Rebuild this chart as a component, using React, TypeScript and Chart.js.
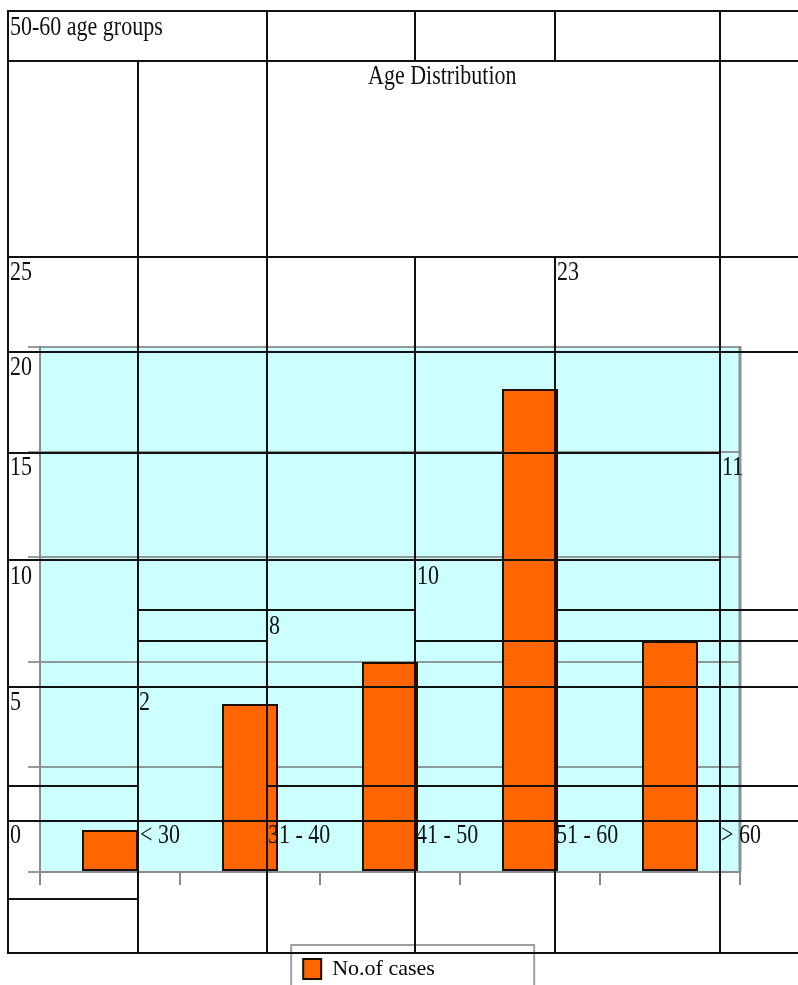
import React, { useEffect, useRef } from 'react';
import { Chart, registerables } from 'chart.js';

Chart.register(...registerables);

// ---- data ----
const categories = ['< 30', '31 - 40', '41 - 50', '51 - 60', '> 60'];
const cases = [2, 8, 10, 23, 11];
const yTickLabels = ['25', '20', '15', '10', '5', '0'];
const yMin = 0;
const yMax = 25;
const yStep = 5;
const seriesName = 'No.of cases';
const chartTitle = 'Age Distribution';
const headerNote = '50-60 age groups';

// ---- overlay table layout (page coordinates) ----
const hLines: [number, number, number][] = [
  [11, 8, 798], [61, 8, 798], [257, 8, 798], [352, 8, 798],
  [453, 8, 720], [560, 8, 720],
  [610, 138, 415], [610, 555, 798],
  [641, 138, 267], [641, 415, 798],
  [687, 8, 798],
  [786, 8, 138], [786, 267, 798],
  [821, 8, 798], [899, 8, 138], [953, 8, 798],
];
const vLines: [number, number, number][] = [
  [8, 11, 953], [138, 61, 953], [267, 11, 953],
  [415, 11, 61], [415, 257, 953],
  [555, 11, 61], [555, 257, 953],
  [720, 11, 953],
];
const textCells: { t: string; x: number; y: number }[] = [
  { t: headerNote, x: 10, y: 17 },
  { t: chartTitle, x: 368, y: 66 },
  { t: yTickLabels[0], x: 10, y: 262 },
  { t: String(cases[3]), x: 557, y: 262 },
  { t: yTickLabels[1], x: 10, y: 357 },
  { t: yTickLabels[2], x: 10, y: 457 },
  { t: String(cases[4]), x: 722, y: 457 },
  { t: yTickLabels[3], x: 10, y: 566 },
  { t: String(cases[2]), x: 417, y: 566 },
  { t: String(cases[1]), x: 269, y: 616 },
  { t: yTickLabels[4], x: 10, y: 692 },
  { t: String(cases[0]), x: 139, y: 692 },
  { t: yTickLabels[5], x: 10, y: 825 },
  { t: categories[0], x: 140, y: 825 },
  { t: categories[1], x: 268, y: 825 },
  { t: categories[2], x: 416, y: 825 },
  { t: categories[3], x: 556, y: 825 },
  { t: categories[4], x: 721, y: 825 },
];

const FONT = "'Liberation Serif', 'Times New Roman', serif";

export default function App() {
  const ref = useRef<HTMLCanvasElement | null>(null);

  useEffect(() => {
    const canvas = ref.current;
    if (!canvas) return;

    const plotBg = {
      id: 'plotBg',
      beforeDraw(chart: any) {
        const { ctx, chartArea: a } = chart;
        ctx.save();
        ctx.fillStyle = '#CCFFFF';
        ctx.fillRect(a.left, a.top, a.right - a.left, a.bottom - a.top);
        ctx.strokeStyle = 'rgba(110,110,110,0.75)';
        ctx.lineWidth = 3;
        ctx.beginPath();
        ctx.moveTo(a.right, a.top - 1);
        ctx.lineTo(a.right, a.bottom);
        ctx.stroke();
        ctx.restore();
      },
    };

    const legendFrame = {
      id: 'legendFrame',
      afterDraw(chart: any) {
        const lg = chart.legend;
        if (!lg || !lg.legendHitBoxes || !lg.legendHitBoxes.length) return;
        const hb = lg.legendHitBoxes[0];
        const { ctx } = chart;
        ctx.save();
        ctx.strokeStyle = '#a0a0a0';
        ctx.lineWidth = 2;
        ctx.strokeRect(hb.left - 12, hb.top - 13, 243, 70);
        ctx.restore();
      },
    };

    const chart = new Chart(canvas, {
      type: 'bar',
      data: {
        labels: categories,
        datasets: [
          {
            label: seriesName,
            data: cases,
            backgroundColor: '#FF6600',
            borderColor: '#1e0e00',
            borderWidth: 2,
            borderSkipped: false,
            barPercentage: 0.4,
            categoryPercentage: 1,
          },
        ],
      },
      options: {
        responsive: false,
        animation: false,
        devicePixelRatio: 1,
        layout: { padding: { left: 8, right: 58, top: 347, bottom: 10 } },
        plugins: {
          title: { display: false },
          tooltip: { enabled: false },
          legend: {
            display: true,
            position: 'bottom',
            labels: {
              boxWidth: 18,
              boxHeight: 20,
              padding: 10,
              color: '#000',
              font: { family: FONT, size: 22 },
            },
          },
        },
        scales: {
          x: {
            type: 'category',
            grid: {
              offset: true,
              drawOnChartArea: false,
              drawTicks: true,
              tickLength: 13,
              color: '#8c8c8c',
              lineWidth: 2,
            },
            border: { display: true, color: '#8c8c8c', width: 2 },
            ticks: { display: false },
            afterFit: (s: any) => {
              s.height = 76;
            },
          },
          y: {
            min: yMin,
            max: yMax,
            ticks: { stepSize: yStep, display: false },
            grid: {
              color: 'rgba(120,120,120,0.75)',
              lineWidth: 2,
              tickLength: 12,
              drawTicks: true,
            },
            border: { display: true, color: '#8c8c8c', width: 2 },
            afterFit: (s: any) => {
              s.width = 42;
            },
          },
        },
      },
      plugins: [plotBg, legendFrame],
    } as any);

    return () => chart.destroy();
  }, []);

  return (
    <div
      style={{
        position: 'absolute',
        left: 0,
        top: 0,
        width: 798,
        height: 985,
        overflow: 'hidden',
        background: '#fff',
      }}
    >
      <canvas
        ref={ref}
        width={808}
        height={1000}
        style={{ position: 'absolute', left: -10, top: 0 }}
      />
      <div style={{ position: 'absolute', left: 0, top: 0, width: 798, height: 985, pointerEvents: 'none' }}>
        {hLines.map(([y, x1, x2], i) => (
          <div
            key={'h' + i}
            style={{ position: 'absolute', left: x1 - 1, top: y - 1, width: x2 - x1 + 2, height: 2, background: '#111' }}
          />
        ))}
        {vLines.map(([x, y1, y2], i) => (
          <div
            key={'v' + i}
            style={{ position: 'absolute', left: x - 1, top: y1 - 1, width: 2, height: y2 - y1 + 2, background: '#111' }}
          />
        ))}
        {textCells.map((c, i) => (
          <span
            key={'t' + i}
            style={{
              position: 'absolute',
              left: c.x,
              top: c.y - 5,
              fontFamily: FONT,
              fontSize: 22,
              lineHeight: '22px',
              whiteSpace: 'nowrap',
              color: '#111',
              transform: 'scaleY(1.27)',
              transformOrigin: '0 0',
            }}
          >
            {c.t}
          </span>
        ))}
      </div>
    </div>
  );
}
